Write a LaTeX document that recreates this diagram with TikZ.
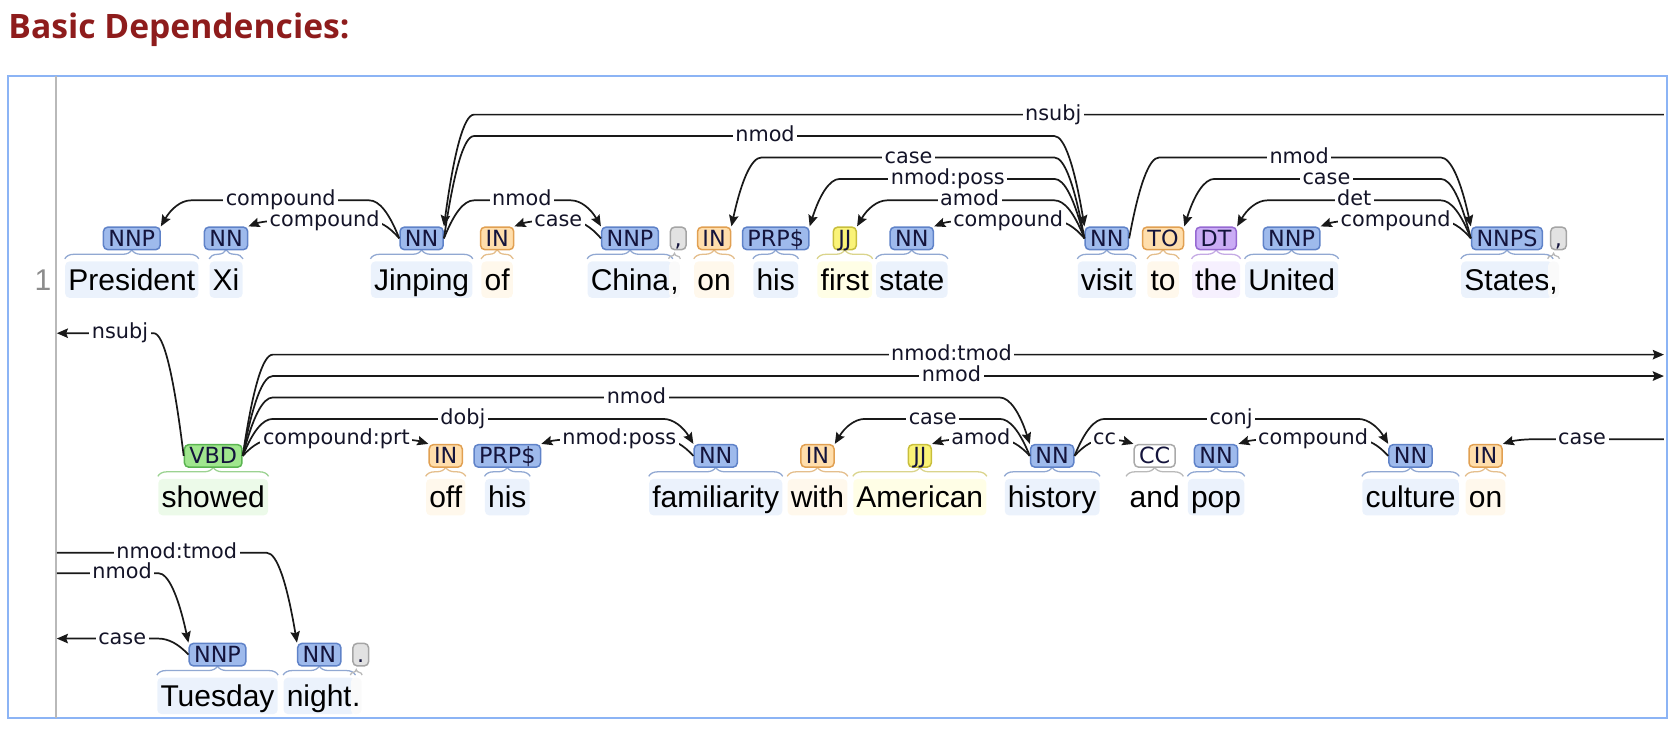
\documentclass[tikz,border=0pt]{standalone}
\usepackage{fontspec}
\setmainfont{Liberation Sans}
\newfontfamily\tagfont{DejaVu Sans}
\newfontfamily\titlefont{Open Sans}
\usetikzlibrary{arrows.meta,calc,decorations.pathreplacing}

\definecolor{nnfill}{RGB}{158,186,236}
\definecolor{nnline}{RGB}{95,130,200}
\definecolor{nnbg}{RGB}{235,242,252}
\definecolor{nnbrace}{RGB}{145,168,210}
\definecolor{infill}{RGB}{255,222,172}
\definecolor{inline}{RGB}{225,160,82}
\definecolor{inbg}{RGB}{255,248,236}
\definecolor{inbrace}{RGB}{228,190,140}
\definecolor{jjfill}{RGB}{250,243,120}
\definecolor{jjline}{RGB}{200,190,60}
\definecolor{jjbg}{RGB}{255,254,230}
\definecolor{jjbrace}{RGB}{218,212,140}
\definecolor{dtfill}{RGB}{202,172,245}
\definecolor{dtline}{RGB}{150,105,210}
\definecolor{dtbg}{RGB}{246,240,254}
\definecolor{dtbrace}{RGB}{196,170,228}
\definecolor{vbfill}{RGB}{160,230,142}
\definecolor{vbline}{RGB}{90,180,80}
\definecolor{vbbg}{RGB}{236,250,233}
\definecolor{vbbrace}{RGB}{155,210,145}
\definecolor{ccfill}{RGB}{255,255,255}
\definecolor{ccline}{RGB}{170,170,170}
\definecolor{ccbg}{RGB}{255,255,255}
\definecolor{ccbrace}{RGB}{185,185,185}
\definecolor{pufill}{RGB}{226,226,226}
\definecolor{puline}{RGB}{165,165,165}
\definecolor{pubg}{RGB}{250,250,250}
\definecolor{pubrace}{RGB}{185,185,185}
\definecolor{tagtext}{RGB}{20,20,60}
\definecolor{arccol}{RGB}{25,25,25}
\definecolor{lbltext}{RGB}{20,20,40}
\definecolor{titlered}{RGB}{142,28,28}
\definecolor{boxblue}{RGB}{140,180,245}
\definecolor{rulegray}{RGB}{185,185,185}
\definecolor{numgray}{RGB}{140,140,140}

\tikzset{
  wordbox/.style={anchor=base, font=\fontsize{14}{16}\selectfont, text height=12.5pt, text depth=2.5pt, inner xsep=1.5pt, inner ysep=1pt, rounded corners=2pt},
  tagbox/.style={font=\tagfont\fontsize{10.4}{12}\selectfont, text height=7.5pt, text depth=0pt, inner xsep=2.3pt, inner ysep=1.5pt, rounded corners=2pt, line width=0.7pt, text=tagtext},
  arcline/.style={draw=arccol, line width=0.8pt, -{Stealth[length=5.2pt,width=4.4pt,inset=0.8pt]}},
  lbl/.style={fill=white, inner xsep=1.2pt, inner ysep=0.3pt, font=\tagfont\fontsize{9.7}{11}\selectfont, text=lbltext, text height=7.2pt, text depth=2pt},
  nnamp/.style={decoration={brace,amplitude=4.25pt}},
  inamp/.style={decoration={brace,amplitude=4.25pt}},
  jjamp/.style={decoration={brace,amplitude=4.25pt}},
  dtamp/.style={decoration={brace,amplitude=4.25pt}},
  vbamp/.style={decoration={brace,amplitude=4.25pt}},
  ccamp/.style={decoration={brace,amplitude=4.25pt}},
  puamp/.style={decoration={brace,amplitude=2.6pt}},
}

% token: name, x, tag-centre y, word, tag, class
\newcommand\tok[6]{%
  \node[wordbox, fill=#6bg] (w#1) at (#2,#3+48.5) {#4};
  \draw[draw=#6brace, line width=0.6pt, decorate, #6amp] ([yshift=1pt]w#1.north west) -- ([yshift=1pt]w#1.north east);
  \node[tagbox, fill=#6fill, draw=#6line] (t#1) at (#2,#3) {#5};
}
% punctuation token: name, tag x, tag-centre y, mark, word x
\newcommand\ptok[5]{%
  \node[wordbox, fill=pubg, inner xsep=0.6pt] (w#1) at (#5,#3+48.5) {#4};
  \draw[draw=pubrace, line width=0.6pt, decorate, puamp] ([yshift=1pt]w#1.north west) -- ([yshift=1pt]w#1.north east);
  \node[tagbox, fill=pufill, draw=puline, inner xsep=2pt] (t#1) at (#2,#3) {#4};
}
% full arc: label name, head anchor, dependent anchor, level, label, label x
\newcommand\deparc[6]{%
  \draw[arcline] let \p1=(#2), \p2=(#3), \p3=(0,#4), \n1={sign(\x2-\x1)} in
    (\p1) .. controls ({\x1+\n1*4.667pt},{\y1+0.6667*(\y3-(\y1))}) and ({\x1+\n1*9.333pt},\y3) .. ({\x1+\n1*14pt},\y3)
    -- ({\x2-\n1*14pt},\y3) .. controls ({\x2-\n1*9.333pt},\y3) and ({\x2-\n1*4.667pt},{\y2+0.6667*(\y3-(\y2))}) .. (\p2)
    node[lbl] (#1) at (#6,#4) {#5};
}
% arc entering from the margin: name, edge coord, dependent anchor, label, label x, level
\newcommand\halfin[6]{%
  \draw[arcline] let \p2=(#3), \p3=(#2), \n1={sign(\x2-\x3)} in
    (\p3) -- ({\x2-\n1*14pt},\y3) .. controls ({\x2-\n1*9.333pt},\y3) and ({\x2-\n1*4.667pt},{\y2+0.6667*(\y3-(\y2))}) .. (\p2)
    node[lbl] (#1) at (#5,#6) {#4};
}
% arc leaving to the margin: name, head anchor, edge coord, label, label x, level
\newcommand\halfout[6]{%
  \draw[arcline] let \p1=(#2), \p3=(#3), \n1={sign(\x3-\x1)} in
    (\p1) .. controls ({\x1+\n1*4.667pt},{\y1+0.6667*(\y3-(\y1))}) and ({\x1+\n1*9.333pt},\y3) .. ({\x1+\n1*14pt},\y3) -- (\p3)
    node[lbl] (#1) at (#5,#6) {#4};
}

\begin{document}
\begin{tikzpicture}[x=0.5pt,y=-0.5pt]
\useasboundingbox (0,0) rectangle (1568,683);
\node[anchor=base west, inner sep=0, font=\titlefont\bfseries\fontsize{15.7}{18}\selectfont, text=titlered] (title) at (7.5,35.8) {Basic Dependencies:};
\draw[boxblue, line width=0.9pt] (7.3,71) rectangle (1556,670);
\draw[rulegray, line width=1pt] (52,71) -- (52,670);
\node[anchor=base, inner sep=0, font=\fontsize{14}{16}\selectfont, text=numgray] (num) at (40,271) {1};

% row 1
\tok{Pres}{123}{222.5}{President}{NNP}{nn}
\tok{Xi}{211}{222.5}{Xi}{NN}{nn}
\tok{Jin}{393.5}{222.5}{Jinping}{NN}{nn}
\tok{Of}{464}{222.5}{of}{IN}{in}
\tok{China}{588}{222.5}{China}{NNP}{nn}
\ptok{CmA}{633}{222.5}{,}{629.5}
\tok{OnA}{666.5}{222.5}{on}{IN}{in}
\tok{HisA}{724}{222.5}{his}{PRP\$}{nn}
\tok{First}{788.5}{222.5}{first}{JJ}{jj}
\tok{State}{851}{222.5}{state}{NN}{nn}
\tok{Visit}{1033}{222.5}{visit}{NN}{nn}
\tok{To}{1085.5}{222.5}{to}{TO}{in}
\tok{The}{1135}{222.5}{the}{DT}{dt}
\tok{United}{1205.5}{222.5}{United}{NNP}{nn}
\tok{States}{1406.5}{222.5}{States}{NNPS}{nn}
\ptok{CmB}{1454.6}{222.5}{,}{1450}
% row 2
\tok{Showed}{199}{425.5}{showed}{VBD}{vb}
\tok{Off}{416}{425.5}{off}{IN}{in}
\tok{HisB}{473.5}{425.5}{his}{PRP\$}{nn}
\tok{Fam}{668}{425.5}{familiarity}{NN}{nn}
\tok{With}{763}{425.5}{with}{IN}{in}
\tok{Amer}{858.5}{425.5}{American}{JJ}{jj}
\tok{History}{982}{425.5}{history}{NN}{nn}
\tok{And}{1077.7}{425.5}{and}{CC}{cc}
\tok{Pop}{1135}{425.5}{pop}{NN}{nn}
\tok{Culture}{1316.5}{425.5}{culture}{NN}{nn}
\tok{OnB}{1386.5}{425.5}{on}{IN}{in}
% row 3
\tok{Tues}{203}{611}{Tuesday}{NNP}{nn}
\tok{Night}{298}{611}{night}{NN}{nn}
\ptok{Dot}{336.7}{611}{.}{332.5}

% margin ends of arcs that run between rows
\coordinate (eA) at (1553,107);
\coordinate (eB) at (53,311);
\coordinate (eC) at (1553,331);
\coordinate (eD) at (1553,351);
\coordinate (eE) at (1553,410);
\coordinate (eF) at (53,516);
\coordinate (eG) at (53,535);
\coordinate (eH) at (53,596);

% row 1 arcs
\deparc{L1}{tJin.west}{tPres.north east}{187}{compound}{262}
\deparc{L2}{tJin.west}{tXi.north east}{206}{compound}{303}
\halfin{L3}{eA}{tJin.north east}{nsubj}{983}{107}
\deparc{L4}{tJin.east}{tVisit.north west}{127}{nmod}{714}
\deparc{L5}{tJin.east}{tChina.north west}{187}{nmod}{487}
\deparc{L6}{tChina.west}{tOf.north east}{206}{case}{521}
\deparc{L7}{tVisit.west}{tOnA.north east}{147}{case}{848}
\deparc{L8}{tVisit.west}{tHisA.north east}{167}{nmod:poss}{884.6}
\deparc{L9}{tVisit.west}{tFirst.north east}{187}{amod}{905}
\deparc{L10}{tVisit.west}{tState.north east}{206}{compound}{941}
\deparc{L11}{tVisit.east}{tStates.north west}{147}{nmod}{1212.6}
\deparc{L12}{tStates.west}{tTo.north east}{167}{case}{1238}
\deparc{L13}{tStates.west}{tThe.north east}{187}{det}{1264}
\deparc{L14}{tStates.west}{tUnited.north east}{206}{compound}{1302.6}
% row 2 arcs
\halfout{L15}{tShowed.west}{eB}{nsubj}{112}{311}
\halfout{L16}{tShowed.east}{eC}{nmod:tmod}{888}{331}
\halfout{L17}{tShowed.east}{eD}{nmod}{888}{351}
\deparc{L18}{tShowed.east}{tHistory.north west}{371}{nmod}{594}
\deparc{L19}{tShowed.east}{tFam.north west}{391}{dobj}{432}
\deparc{L20}{tShowed.east}{tOff.north west}{410}{compound:prt}{314}
\deparc{L21}{tFam.west}{tHisB.north east}{410}{nmod:poss}{578}
\deparc{L22}{tHistory.west}{tWith.north east}{391}{case}{870.5}
\deparc{L23}{tHistory.west}{tAmer.north east}{410}{amod}{915.5}
\deparc{L24}{tHistory.east}{tCulture.north west}{391}{conj}{1149}
\deparc{L25}{tHistory.east}{tAnd.north west}{410}{cc}{1031}
\deparc{L26}{tCulture.west}{tPop.north east}{410}{compound}{1225.6}
\halfin{L27}{eE}{tOnB.north east}{case}{1476.6}{410}
% row 3 arcs
\halfin{L28}{eF}{tNight.north west}{nmod:tmod}{165}{516}
\halfin{L29}{eG}{tTues.north west}{nmod}{114}{535}
\halfout{L30}{tTues.west}{eH}{case}{114}{596}
\end{tikzpicture}
\end{document}
